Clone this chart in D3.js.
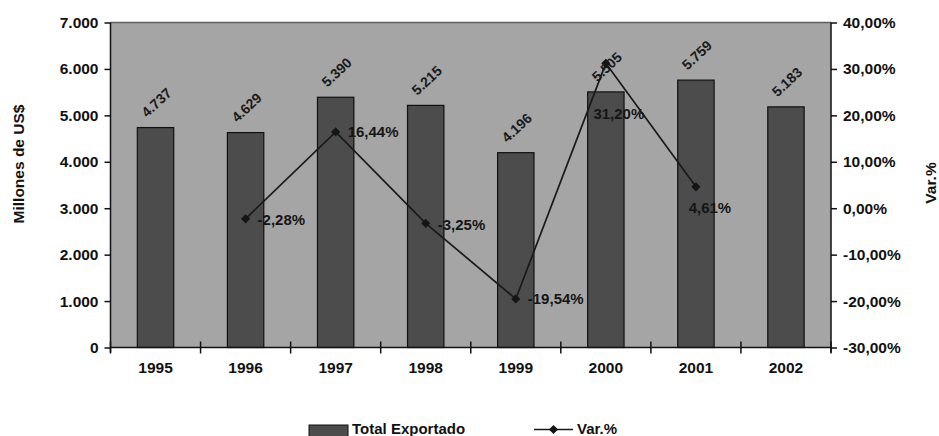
<!DOCTYPE html>
<html>
<head>
<meta charset="utf-8">
<script src="https://cdn.jsdelivr.net/npm/d3@7"></script>
<style>
  body { margin: 0; background: #fff; }
  svg { display: block; font-family: "Liberation Sans", Arial, sans-serif; }
</style>
</head>
<body>
<svg id="chart" width="939" height="436"></svg>
<script>
// Exportaciones totales (millones de US$) y variación anual
const years = ['1995', '1996', '1997', '1998', '1999', '2000', '2001', '2002'];
const totalExportado = [4737, 4629, 5390, 5215, 4196, 5505, 5759, 5183];
const varYears = ['1996', '1997', '1998', '1999', '2000', '2001'];
const varPct = [-2.28, 16.44, -3.25, -19.54, 31.20, 4.61];
const leftTicks = [0, 1000, 2000, 3000, 4000, 5000, 6000, 7000];
const rightTicks = [-30, -20, -10, 0, 10, 20, 30, 40];

// label nudges for the percentage labels: [dx, dy, anchor]
const pctLabelPlace = [
  [12, 1, 'start'], [12, 0, 'start'], [12, 1, 'start'],
  [12, 0, 'start'], [13, 50, 'middle'], [14, 21, 'middle']
];

const locale = d3.formatLocale({
  decimal: ',', thousands: '.', grouping: [3], currency: ['$', ''], minus: '-'
});
const fmtInt = locale.format(',d');
const fmtPct = v => locale.format(',.2f')(v) + '%';

const svg = d3.select('#chart');
const L = 110.5, R = 831, T = 22.5, B = 347.5;

const x = d3.scaleBand().domain(years).range([L, R]).padding(0);
const yL = d3.scaleLinear().domain([0, 7000]).range([B, T]);
const yR = d3.scaleLinear().domain([-30, 40]).range([B, T]);

// plot background
svg.append('rect')
  .attr('x', L).attr('y', T).attr('width', R - L).attr('height', B - T)
  .attr('fill', '#a5a5a5');
svg.append('line')
  .attr('x1', L).attr('x2', R).attr('y1', T).attr('y2', T)
  .attr('stroke', '#5e5e5e').attr('stroke-width', 1.5);

// bars
const barW = x.bandwidth() * 0.404;
svg.append('g').selectAll('rect')
  .data(years)
  .join('rect')
  .attr('x', d => x(d) + x.bandwidth() / 2 - barW / 2)
  .attr('y', (d, i) => yL(totalExportado[i]))
  .attr('width', barW)
  .attr('height', (d, i) => B - yL(totalExportado[i]))
  .attr('fill', '#4c4c4c')
  .attr('stroke', '#111')
  .attr('stroke-width', 1.2);

// left axis
const gL = svg.append('g')
  .attr('transform', `translate(${L},0)`)
  .call(d3.axisLeft(yL).tickValues(leftTicks).tickFormat(fmtInt).tickSize(6).tickSizeOuter(0).tickPadding(6));
// right axis
const gR = svg.append('g')
  .attr('transform', `translate(${R},0)`)
  .call(d3.axisRight(yR).tickValues(rightTicks).tickFormat(fmtPct).tickSize(6).tickSizeOuter(0).tickPadding(6));
// bottom axis (labels at centers, ticks at category boundaries)
const gB = svg.append('g')
  .attr('transform', `translate(0,${B})`)
  .call(d3.axisBottom(x).tickSize(0).tickPadding(14));
gB.select('.domain').attr('d', `M${L},0H${R}`);

const boundaries = years.map(d => x(d)).concat([R]);
svg.append('g').selectAll('line')
  .data(boundaries)
  .join('line')
  .attr('x1', d => d).attr('x2', d => d)
  .attr('y1', B - 6).attr('y2', B + 6)
  .attr('stroke', '#111').attr('stroke-width', 1.5);

[gL, gR, gB].forEach(g => {
  g.selectAll('.domain').attr('stroke', '#111').attr('stroke-width', 1.5);
  g.selectAll('.tick line').attr('stroke', '#111').attr('stroke-width', 1.5);
  g.selectAll('.tick text')
    .attr('fill', '#111')
    .style('font-size', '15.5px')
    .style('font-weight', 'bold');
});
gL.select('.domain').attr('d', `M0,${T}V${B + 5}`);
gR.select('.domain').attr('d', `M0,${T}V${B + 5}`);

// bar value labels, slanted
svg.append('g').selectAll('text')
  .data(years)
  .join('text')
  .attr('transform', (d, i) =>
    `translate(${x(d) + x.bandwidth() / 2 + 1},${yL(totalExportado[i]) - 25}) rotate(-43)`)
  .attr('text-anchor', 'middle')
  .attr('dy', '0.35em')
  .attr('fill', '#1a1a1a')
  .style('font-size', '14px')
  .style('font-weight', 'bold')
  .text((d, i) => fmtInt(totalExportado[i]));

// variation line
const cx = d => x(d) + x.bandwidth() / 2;
const line = d3.line()
  .x((d, i) => cx(varYears[i]))
  .y(d => yR(d));
svg.append('path')
  .datum(varPct)
  .attr('d', line)
  .attr('fill', 'none')
  .attr('stroke', '#1a1a1a')
  .attr('stroke-width', 1.7);

// diamond markers: squares turned 45 degrees
const marker = d3.symbol().type(d3.symbolSquare).size(42);
svg.append('g').selectAll('path')
  .data(varPct)
  .join('path')
  .attr('transform', (d, i) => `translate(${cx(varYears[i])},${yR(d)}) rotate(45)`)
  .attr('d', marker)
  .attr('fill', '#151515');

svg.append('g').selectAll('text')
  .data(varPct)
  .join('text')
  .attr('x', (d, i) => cx(varYears[i]) + pctLabelPlace[i][0])
  .attr('y', (d, i) => yR(d) + pctLabelPlace[i][1])
  .attr('text-anchor', (d, i) => pctLabelPlace[i][2])
  .attr('dy', '0.35em')
  .attr('fill', '#151515')
  .style('font-size', '15px')
  .style('font-weight', 'bold')
  .text(d => fmtPct(d));

// axis titles
svg.append('text')
  .attr('transform', `translate(24,164) rotate(-90)`)
  .attr('text-anchor', 'middle')
  .attr('fill', '#111')
  .style('font-size', '15.5px')
  .style('font-weight', 'bold')
  .text('Millones de US$');
svg.append('text')
  .attr('transform', `translate(936,183) rotate(-90)`)
  .attr('text-anchor', 'middle')
  .attr('fill', '#111')
  .style('font-size', '15.5px')
  .style('font-weight', 'bold')
  .text('Var.%');

// legend
const lg = svg.append('g');
lg.append('rect')
  .attr('x', 309).attr('y', 425).attr('width', 39).attr('height', 14)
  .attr('fill', '#4c4c4c').attr('stroke', '#111').attr('stroke-width', 1);
lg.append('text')
  .attr('x', 352).attr('y', 433.5)
  .attr('fill', '#111')
  .style('font-size', '15px').style('font-weight', 'bold')
  .text('Total Exportado');
lg.append('line')
  .attr('x1', 534).attr('x2', 573).attr('y1', 429.5).attr('y2', 429.5)
  .attr('stroke', '#1a1a1a').attr('stroke-width', 1.6);
lg.append('path')
  .attr('transform', 'translate(553.5,429.5) rotate(45)')
  .attr('d', marker)
  .attr('fill', '#151515');
lg.append('text')
  .attr('x', 577).attr('y', 433.5)
  .attr('fill', '#111')
  .style('font-size', '15px').style('font-weight', 'bold')
  .text('Var.%');
</script>
</body>
</html>
